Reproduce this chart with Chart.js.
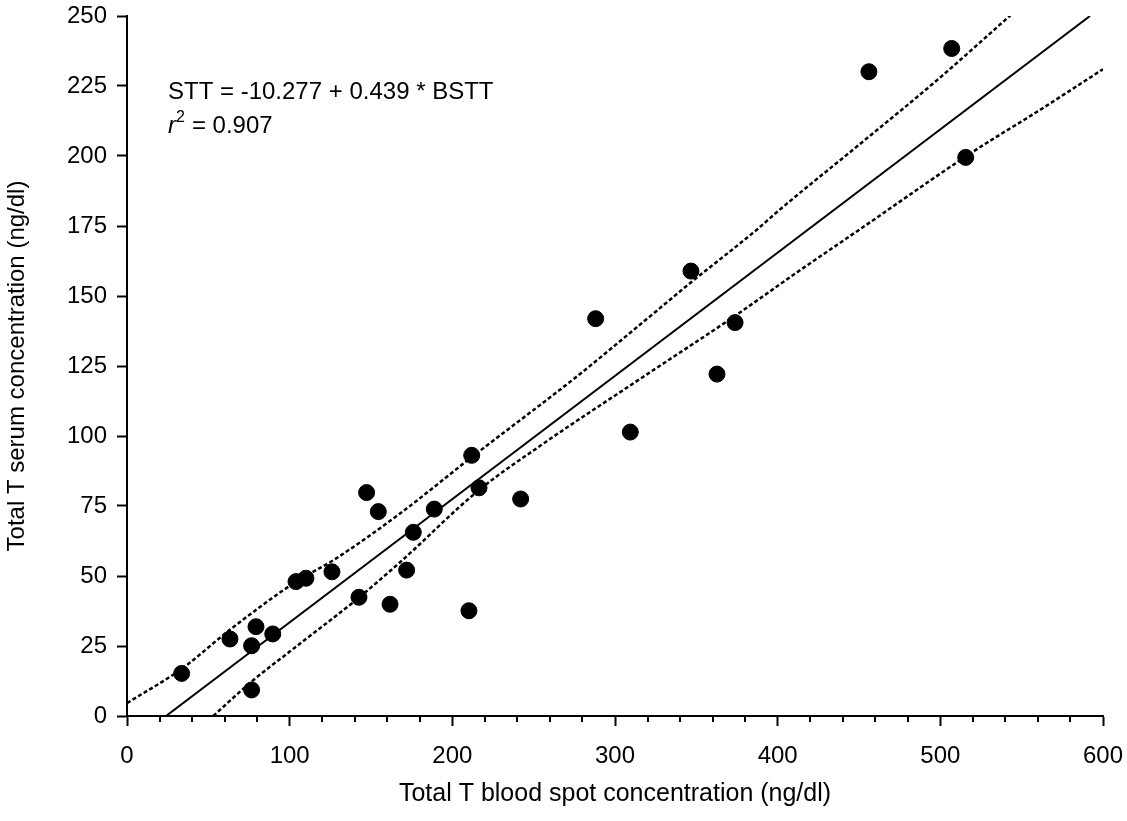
<!DOCTYPE html>
<html>
<head>
<meta charset="utf-8">
<script src="https://cdn.jsdelivr.net/npm/chart.js@4.4.1/dist/chart.umd.min.js"></script>
<style>
  html, body { margin: 0; padding: 0; background: #fff; }
  #wrap { width: 1127px; height: 821px; }
</style>
</head>
<body>
<div id="wrap"><canvas id="spotChart" width="1127" height="821"></canvas></div>
<script>
// measured points: blood spot (x) vs serum (y), ng/dl
const spotX = [33.6, 63.3, 76.6, 79.3, 89.6, 76.6, 103.9, 110.0, 126.0, 142.6, 147.3, 154.5, 161.7, 171.9,
  176.0, 188.9, 210.2, 211.9, 216.4, 242.0, 288.1, 309.4, 346.7, 362.7, 373.8, 456.1, 507.0, 515.6];
const serumY = [15.2, 27.5, 25.1, 31.9, 29.3, 9.3, 48.0, 49.2, 51.5, 42.4, 79.8, 73.0, 39.9, 52.1,
  65.6, 73.9, 37.6, 93.1, 81.5, 77.5, 141.9, 101.4, 158.9, 122.1, 140.5, 230.1, 238.4, 199.5];

// regression line, clipped to the plot
const fitX = [24, 592];
const fitY = [0, 250];

// 95% confidence bands
const upperX = [0, 34, 63, 104, 127, 168, 212, 254, 276, 320, 347, 387, 401, 450, 498, 544];
const upperY = [4.6, 17, 30.7, 48, 55.7, 72.4, 92.5, 111.1, 121, 142, 155, 173.6, 180.7, 204, 227.1, 250.7];
const lowerX = [53, 77, 100, 143, 168, 216, 254, 317, 374, 414, 450, 520, 560, 600];
const lowerY = [0, 12.5, 23, 42.5, 55, 80.5, 96.5, 121, 143, 159.3, 173.6, 201.5, 216, 231];

const xMinorTicks = [20, 40, 60, 80, 120, 140, 160, 180, 220, 240, 260, 280,
  320, 340, 360, 380, 420, 440, 460, 480, 520, 540, 560, 580];

const equationText = "STT = -10.277 + 0.439 * BSTT";
const r2Text = "= 0.907";

const FONT = "'Liberation Sans', Arial, sans-serif";

function toPoints(xs, ys) {
  return xs.map((v, i) => ({ x: v, y: ys[i] }));
}

const minorTicks = {
  id: "minorTicks",
  afterDraw(chart) {
    const x = chart.scales.x;
    const ctx = chart.ctx;
    ctx.save();
    ctx.strokeStyle = "#000";
    ctx.lineWidth = 2;
    xMinorTicks.forEach(v => {
      const px = Math.round(x.getPixelForValue(v));
      ctx.beginPath();
      ctx.moveTo(px, x.top);
      ctx.lineTo(px, x.top + 6);
      ctx.stroke();
    });
    ctx.restore();
  }
};

const equationLabel = {
  id: "equationLabel",
  afterDraw(chart) {
    const { ctx, scales: { x, y } } = chart;
    const left = x.getPixelForValue(25.2);
    ctx.save();
    ctx.fillStyle = "#000";
    ctx.textBaseline = "alphabetic";
    ctx.font = `24px ${FONT}`;
    ctx.fillText(equationText, left, y.getPixelForValue(220.4));

    const lineY = y.getPixelForValue(208.1);
    ctx.font = `italic 24px ${FONT}`;
    ctx.fillText("r", left, lineY);
    let cx = left + ctx.measureText("r").width;
    ctx.font = `16px ${FONT}`;
    ctx.fillText("2", cx, lineY - 11);
    cx += ctx.measureText("2").width + 7;
    ctx.font = `24px ${FONT}`;
    ctx.fillText(r2Text, cx, lineY);
    ctx.restore();
  }
};

const axisStyle = {
  border: { display: true, color: "#000", width: 2 },
  grid: {
    drawOnChartArea: false,
    drawTicks: true,
    tickLength: 10,
    tickColor: "#000",
    tickWidth: 2
  }
};

const bandStyle = {
  showLine: true,
  borderColor: "#000",
  borderWidth: 2.5,
  borderDash: [4, 2.5],
  cubicInterpolationMode: "monotone",
  pointRadius: 0
};

new Chart(document.getElementById("spotChart"), {
  type: "scatter",
  data: {
    datasets: [
      {
        label: "Samples",
        data: toPoints(spotX, serumY),
        backgroundColor: "#000",
        borderColor: "#000",
        pointRadius: 8,
        pointHoverRadius: 8
      },
      {
        label: "Fit",
        data: toPoints(fitX, fitY),
        showLine: true,
        borderColor: "#000",
        borderWidth: 2,
        pointRadius: 0
      },
      { label: "Upper 95%", data: toPoints(upperX, upperY), ...bandStyle },
      { label: "Lower 95%", data: toPoints(lowerX, lowerY), ...bandStyle }
    ]
  },
  options: {
    responsive: false,
    animation: false,
    layout: { padding: { top: 16, right: 24, left: 0, bottom: 0 } },
    plugins: {
      legend: { display: false },
      tooltip: { enabled: false }
    },
    scales: {
      x: {
        ...axisStyle,
        min: 0,
        max: 600,
        ticks: { stepSize: 100, color: "#000", padding: 16, font: { family: FONT, size: 24 } },
        title: {
          display: true,
          text: "Total T blood spot concentration (ng/dl)",
          color: "#000",
          font: { family: FONT, size: 25 },
          padding: { top: 0, bottom: 12 }
        },
        afterFit: scale => {
          scale.height = 105;
          scale.paddingLeft = 0;
          scale.paddingRight = 0;
        }
      },
      y: {
        ...axisStyle,
        min: 0,
        max: 250,
        ticks: { stepSize: 25, color: "#000", padding: 10, font: { family: FONT, size: 24 } },
        title: {
          display: true,
          text: "Total T serum concentration (ng/dl)",
          color: "#000",
          font: { family: FONT, size: 24 },
          padding: { top: 3, bottom: 0 }
        },
        afterFit: scale => {
          scale.width = 127;
          scale.paddingTop = 0;
          scale.paddingBottom = 0;
        }
      }
    }
  },
  plugins: [minorTicks, equationLabel]
});
</script>
</body>
</html>
